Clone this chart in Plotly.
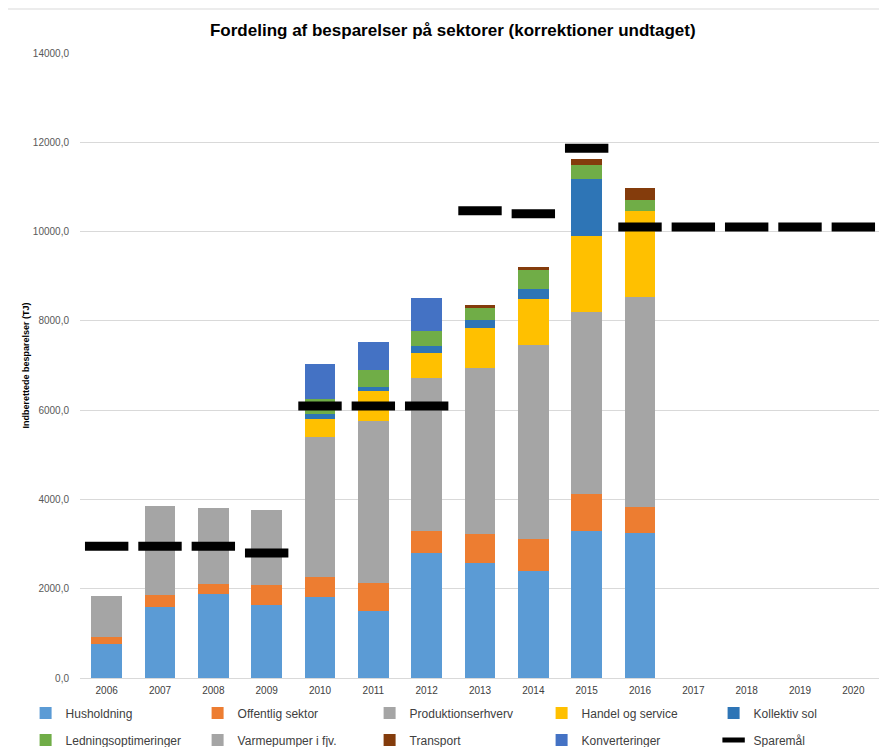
import plotly.graph_objects as go

years = ["2006", "2007", "2008", "2009", "2010", "2011", "2012", "2013", "2014", "2015", "2016",
         "2017", "2018", "2019", "2020"]

husholdning = [751, 1594, 1877, 1632, 1817, 1497, 2800, 2577, 2405, 3285, 3241]
offentlig = [172, 268, 237, 447, 447, 626, 499, 655, 708, 834, 588]
produktion = [910, 1989, 1686, 1676, 3136, 3634, 3419, 3719, 4336, 4083, 4715]
handel = [0, 0, 0, 0, 395, 664, 568, 878, 1044, 1706, 1923]
kollektiv = [0, 0, 0, 0, 112, 90, 148, 186, 230, 1267, 0]
ledning = [0, 0, 0, 0, 336, 380, 344, 284, 418, 327, 230]
varmepumper = [0, 0, 0, 0, 0, 0, 0, 0, 0, 0, 0]
transport = [0, 0, 0, 0, 0, 0, 0, 51, 67, 120, 284]
konverteringer = [0, 0, 0, 0, 782, 625, 731, 0, 0, 0, 0]
sparemaal = [2950, 2950, 2950, 2800, 6093, 6093, 6093, 10468, 10401, 11865, 10100, 10100, 10100, 10100, 10100]

y_ticks = [0, 2000, 4000, 6000, 8000, 10000, 12000, 14000]

series = [
    ("Husholdning", husholdning, "#5B9BD5"),
    ("Offentlig sektor", offentlig, "#ED7D31"),
    ("Produktionserhverv", produktion, "#A5A5A5"),
    ("Handel og service", handel, "#FFC000"),
    ("Kollektiv sol", kollektiv, "#2E75B6"),
    ("Ledningsoptimeringer", ledning, "#70AD47"),
    ("Varmepumper i fjv.", varmepumper, "#A5A5A5"),
    ("Transport", transport, "#843C0C"),
    ("Konverteringer", konverteringer, "#4472C4"),
]

FONT = "Liberation Sans, Arial, sans-serif"

fig = go.Figure()
for i, (name, vals, col) in enumerate(series):
    fig.add_trace(go.Bar(
        x=years[:len(vals)], y=vals, name=name,
        marker=dict(color=col, line=dict(width=0)),
        legend="legend" if i < 5 else "legend2",
    ))

fig.add_trace(go.Scatter(
    x=years, y=sparemaal, name="Sparemål", mode="markers",
    marker=dict(symbol="line-ew", size=31, color="black",
                line=dict(color="black", width=9)),
    legend="legend2",
))

leg_common = dict(orientation="h", xanchor="left", yanchor="middle",
                  entrywidth=127, entrywidthmode="pixels", traceorder="normal",
                  font=dict(size=12, color="#404040"), itemwidth=30,
                  bgcolor="rgba(0,0,0,0)")

# The page body adds an 8px offset, so the figure is sized 879x739
fig.update_layout(
    width=879, height=739,
    barmode="stack", bargap=0.42,
    separators=",.",
    paper_bgcolor="white", plot_bgcolor="white",
    font=dict(family=FONT, color="#595959", size=10),
    margin=dict(l=72, r=7, t=45, b=69, autoexpand=False),
    title=dict(text="<b>Fordeling af besparelser på sektorer (korrektioner undtaget)</b>",
               x=0.506, xanchor="center", y=0.970, yanchor="middle",
               font=dict(family=FONT, size=17, color="black")),
    xaxis=dict(type="category", categoryorder="array", categoryarray=years,
               range=[-0.5, len(years) - 0.5],
               showgrid=False, showline=False, ticks="", automargin=False,
               ticklabelstandoff=5,
               tickfont=dict(size=10, color="#404040")),
    yaxis=dict(range=[0, 14000], tickvals=y_ticks, tickformat=".1f",
               showgrid=True, gridcolor="#D9D9D9", gridwidth=1,
               zeroline=True, zerolinecolor="#D9D9D9", zerolinewidth=1,
               showline=False, ticks="", ticklabelstandoff=10, automargin=False,
               tickfont=dict(size=10, color="#595959"),
               title=dict(text="<b>Indberettede besparelser (TJ)</b>", standoff=1,
                          font=dict(size=9, color="black"))),
    legend=dict(x=-0.068, y=-0.056, **leg_common),
    legend2=dict(x=-0.068, y=-0.0992, **leg_common),
    shapes=[dict(type="line", xref="paper", yref="paper",
                 x0=-0.095, x1=1.02, y0=1.0704, y1=1.0704,
                 line=dict(color="#D9D9D9", width=1))],
)

fig.write_html("out.html")
